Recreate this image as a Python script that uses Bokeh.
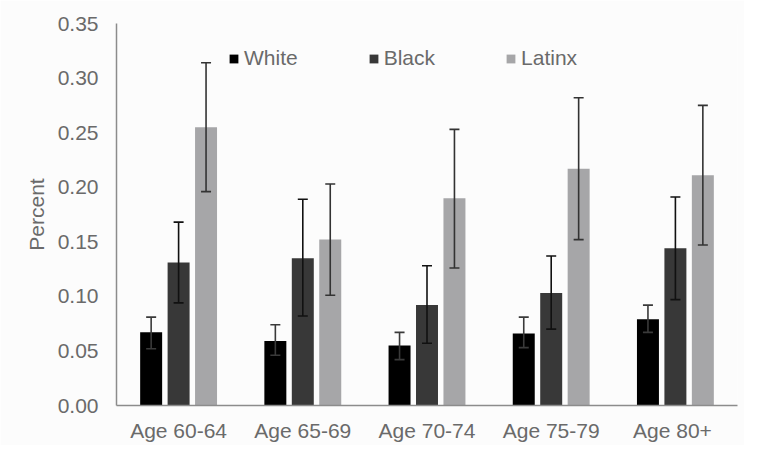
from bokeh.plotting import figure
from bokeh.models import ColumnDataSource, FactorRange, Range1d, FixedTicker, NumeralTickFormatter, Legend, LegendItem
from bokeh.transform import dodge
from bokeh.embed import file_html
from bokeh.resources import INLINE

categories = ["Age 60-64", "Age 65-69", "Age 70-74", "Age 75-79", "Age  80+"]
series_names = ["White", "Black", "Latinx"]

white = [0.067, 0.059, 0.055, 0.066, 0.079]
white_lo = [0.052, 0.046, 0.042, 0.053, 0.067]
white_hi = [0.081, 0.074, 0.067, 0.081, 0.092]

black = [0.131, 0.135, 0.092, 0.103, 0.144]
black_lo = [0.094, 0.082, 0.057, 0.070, 0.097]
black_hi = [0.168, 0.189, 0.128, 0.137, 0.191]

latinx = [0.255, 0.152, 0.190, 0.217, 0.211]
latinx_lo = [0.196, 0.101, 0.126, 0.152, 0.147]
latinx_hi = [0.314, 0.203, 0.253, 0.282, 0.275]

y_ticks = [0.0, 0.05, 0.10, 0.15, 0.20, 0.25, 0.30, 0.35]

colors = ["#000000", "#383838", "#a6a6a8"]
err_colors = ["#3a3a3a", "#111111", "#333333"]
offsets = [-0.221, 0.0, 0.221]
text_color = "#6a6a6a"
font = "Liberation Sans"
fsize = "21px"

p = figure(width=744, height=445, x_range=FactorRange(*categories, range_padding=0),
           y_range=Range1d(0, 0.35), output_backend="svg", toolbar_location=None,
           min_border_left=116, min_border_right=7, min_border_top=23, min_border_bottom=40)
p.background_fill_color = "#fcfcfc"
p.border_fill_color = "#fcfcfc"
p.outline_line_color = None
p.xgrid.grid_line_color = None
p.ygrid.grid_line_color = None

data = [(white, white_lo, white_hi), (black, black_lo, black_hi), (latinx, latinx_lo, latinx_hi)]
items = []
for i, (vals, lo, hi) in enumerate(data):
    src = ColumnDataSource(dict(cat=categories, val=vals, lo=lo, hi=hi))
    xd = dodge("cat", offsets[i], range=p.x_range)
    r = p.vbar(x=xd, top="val", bottom=0, width=0.177, source=src,
               fill_color=colors[i], line_color=None)
    items.append(LegendItem(label=series_names[i], renderers=[r]))
for i, (vals, lo, hi) in enumerate(data):
    src = ColumnDataSource(dict(cat=categories, val=vals, lo=lo, hi=hi))
    xd = dodge("cat", offsets[i], range=p.x_range)
    p.segment(x0=xd, x1=xd, y0="lo", y1="hi", source=src, line_color=err_colors[i], line_width=1.6)
    p.scatter(x=xd, y="lo", marker="dash", size=10, source=src, line_color=err_colors[i], line_width=1.6)
    p.scatter(x=xd, y="hi", marker="dash", size=10, source=src, line_color=err_colors[i], line_width=1.6)

legend = Legend(items=items, orientation="horizontal", location=(112, 335),
                glyph_width=11, glyph_height=11, label_standoff=5, spacing=70,
                padding=0, margin=0, background_fill_alpha=0, border_line_alpha=0,
                label_text_font=font, label_text_font_size=fsize, label_text_color=text_color)
p.add_layout(legend)

p.yaxis.ticker = FixedTicker(ticks=y_ticks)
p.yaxis.formatter = NumeralTickFormatter(format="0.00")
p.yaxis.axis_label = "Percent"
p.yaxis.axis_label_text_font = font
p.yaxis.axis_label_text_font_size = fsize
p.yaxis.axis_label_text_font_style = "normal"
p.yaxis.axis_label_text_color = text_color
p.yaxis.axis_label_standoff = 7

for ax in (p.xaxis[0], p.yaxis[0]):
    ax.major_tick_line_color = None
    ax.minor_tick_line_color = None
    ax.major_tick_out = 0
    ax.major_tick_in = 0
    ax.axis_line_color = "#8c8c8c"
    ax.axis_line_width = 1.5
    ax.major_label_text_font = font
    ax.major_label_text_font_size = fsize
    ax.major_label_text_color = text_color
p.yaxis.major_label_standoff = 18
p.xaxis.major_label_standoff = 13

open("out.html", "w").write(file_html(p, INLINE))
